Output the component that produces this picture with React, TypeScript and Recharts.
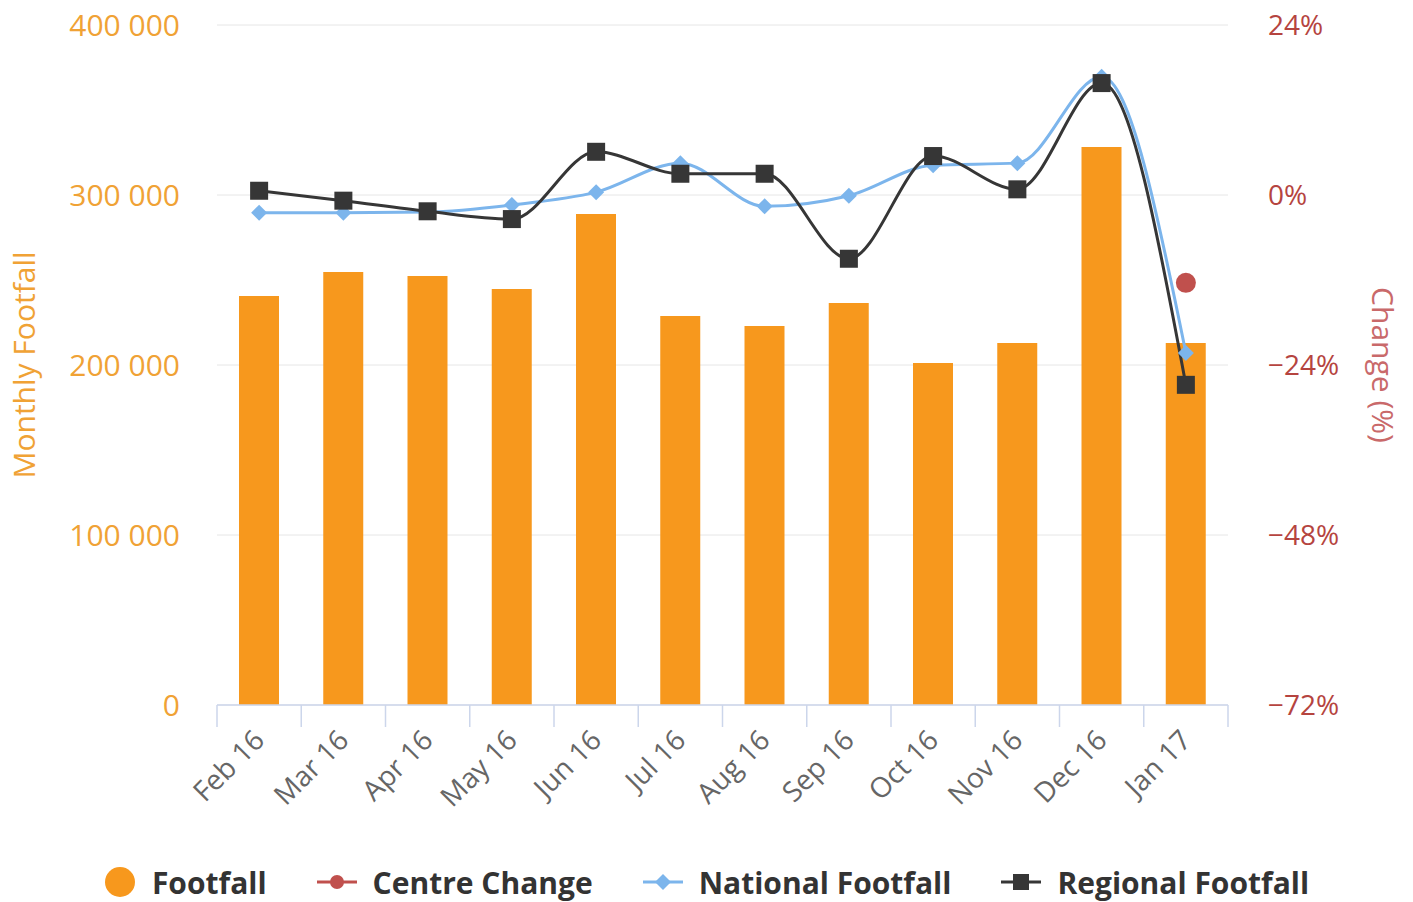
import {
  Bar,
  CartesianGrid,
  ComposedChart,
  Legend,
  Line,
  XAxis,
  YAxis,
} from "recharts";

const months = ["Feb 16", "Mar 16", "Apr 16", "May 16", "Jun 16", "Jul 16", "Aug 16", "Sep 16", "Oct 16", "Nov 16", "Dec 16", "Jan 17"];
const footfall = [240600, 254700, 252400, 244700, 288800, 228800, 222900, 236500, 201200, 212900, 328200, 212900];
const centreChange: (number | null)[] = [null, null, null, null, null, null, null, null, null, null, null, -12.4];
const nationalFootfall = [-2.5, -2.5, -2.4, -1.4, 0.4, 4.5, -1.6, -0.1, 4.2, 4.5, 16.7, -22.3];
const regionalFootfall = [0.6, -0.8, -2.3, -3.4, 6.1, 3.0, 3.0, -9.0, 5.5, 0.8, 15.8, -26.8];

const leftTicks = [0, 100000, 200000, 300000, 400000];
const rightTicks = [-72, -48, -24, 0, 24];

const data = months.map((m, i) => ({
  month: m,
  footfall: footfall[i],
  centre: centreChange[i],
  national: nationalFootfall[i],
  regional: regionalFootfall[i],
}));

const ORANGE = "#f7981d";
const RED = "#c0504d";
const BLUE = "#7cb5ec";
const DARK = "#363636";
const FONT = "'Open Sans', sans-serif";

const W = 1413;
const H = 902;
const PLOT_L = 217;
const PLOT_R = 1228;
const BAND = (PLOT_R - PLOT_L) / months.length;

const fmtThousands = (v: number) => String(v).replace(/\B(?=(\d{3})+(?!\d))/g, " ");
const fmtPct = (v: number) => `${v < 0 ? "−" : ""}${Math.abs(v)}%`;

function MonthTick(props: any) {
  const { x, y, payload, index } = props;
  const half = BAND / 2;
  const last = index === months.length - 1;
  const ax = x + 7;
  const ay = y + 37;
  return (
    <g>
      <line x1={x - half} y1={y} x2={x - half} y2={y + 22} stroke="#ccd6eb" strokeWidth={1.5} />
      {last && <line x1={x + half} y1={y} x2={x + half} y2={y + 22} stroke="#ccd6eb" strokeWidth={1.5} />}
      <text
        x={ax}
        y={ay}
        textAnchor="end"
        transform={`rotate(-45, ${ax}, ${ay})`}
        fill="#666"
        fontSize={28}
        fontFamily={FONT}
      >
        {payload.value}
      </text>
    </g>
  );
}

const SquareDot = (props: any) => {
  const { cx, cy } = props;
  if (cx == null || cy == null) return null;
  return <rect x={cx - 9} y={cy - 9} width={18} height={18} fill={DARK} />;
};

const DiamondDot = (props: any) => {
  const { cx, cy } = props;
  if (cx == null || cy == null) return null;
  return <path d={`M${cx},${cy - 8} L${cx + 8},${cy} L${cx},${cy + 8} L${cx - 8},${cy} Z`} fill={BLUE} />;
};

const CircleDot = (props: any) => {
  const { cx, cy, value } = props;
  if (cx == null || cy == null || value == null) return null;
  return <circle cx={cx} cy={cy} r={10} fill={RED} />;
};

function LegendIcon({ kind }: { kind: string }) {
  if (kind === "footfall") {
    return (
      <svg width={32} height={32}>
        <circle cx={16} cy={16} r={15} fill={ORANGE} />
      </svg>
    );
  }
  const color = kind === "centre" ? RED : kind === "national" ? BLUE : DARK;
  return (
    <svg width={40} height={32}>
      <line x1={0} y1={16} x2={40} y2={16} stroke={color} strokeWidth={3} />
      {kind === "centre" && <circle cx={20} cy={16} r={7} fill={color} />}
      {kind === "national" && <path d="M20,8 L28,16 L20,24 L12,16 Z" fill={color} />}
      {kind === "regional" && <rect x={12} y={8} width={16} height={16} fill={color} />}
    </svg>
  );
}

const legendItems = [
  { kind: "footfall", label: "Footfall" },
  { kind: "centre", label: "Centre Change" },
  { kind: "national", label: "National Footfall" },
  { kind: "regional", label: "Regional Footfall" },
];

function ChartLegend() {
  return (
    <div style={{ display: "flex", justifyContent: "center", alignItems: "center", height: 40, gap: 50 }}>
      {legendItems.map((it) => (
        <div key={it.kind} style={{ display: "flex", alignItems: "center", gap: 16 }}>
          <LegendIcon kind={it.kind} />
          <span style={{ fontFamily: FONT, fontWeight: 700, fontSize: 30, color: "#333" }}>{it.label}</span>
        </div>
      ))}
    </div>
  );
}

export default function App() {
  return (
    <div style={{ position: "absolute", left: 0, top: 0, width: W, height: H, background: "#fff" }}>
      <ComposedChart width={W} height={H} data={data} margin={{ top: 25, right: 0, bottom: 0, left: 0 }}>
        <CartesianGrid vertical={false} stroke="#e6e6e6" yAxisId="left" />
        <XAxis
          dataKey="month"
          height={157}
          axisLine={{ stroke: "#ccd6eb", strokeWidth: 1.5 }}
          tickLine={false}
          tickSize={0}
          tickMargin={0}
          interval={0}
          tick={<MonthTick />}
        />
        <YAxis
          yAxisId="left"
          orientation="left"
          width={PLOT_L}
          domain={[0, 400000]}
          ticks={leftTicks}
          tickFormatter={fmtThousands}
          axisLine={false}
          tickLine={false}
          tickSize={0}
          tickMargin={37}
          tick={{ fill: "#f0a235", fontSize: 30, fontFamily: FONT }}
          label={{
            value: "Monthly Footfall",
            angle: -90,
            position: "insideLeft",
            offset: 24,
            style: { fill: "#f0a235", fontSize: 30, fontFamily: FONT, textAnchor: "middle" },
          }}
        />
        <YAxis
          yAxisId="right"
          orientation="right"
          width={W - PLOT_R}
          domain={[-72, 24]}
          ticks={rightTicks}
          tickFormatter={fmtPct}
          axisLine={false}
          tickLine={false}
          tickSize={0}
          tickMargin={40}
          tick={{ fill: "#b5443f", fontSize: 28, fontFamily: FONT, textAnchor: "start" }}
          label={{
            value: "Change (%)",
            angle: 90,
            position: "insideRight",
            offset: 30,
            style: { fill: "#c9696a", fontSize: 30, fontFamily: FONT, textAnchor: "middle" },
          }}
        />
        <Bar yAxisId="left" dataKey="footfall" name="Footfall" fill={ORANGE} barSize={40} isAnimationActive={false} />
        <Line
          yAxisId="right"
          dataKey="centre"
          name="Centre Change"
          stroke={RED}
          strokeWidth={3}
          dot={<CircleDot />}
          activeDot={false}
          isAnimationActive={false}
        />
        <Line
          yAxisId="right"
          type="monotone"
          dataKey="national"
          name="National Footfall"
          stroke={BLUE}
          strokeWidth={3}
          dot={<DiamondDot />}
          activeDot={false}
          isAnimationActive={false}
        />
        <Line
          yAxisId="right"
          type="monotone"
          dataKey="regional"
          name="Regional Footfall"
          stroke={DARK}
          strokeWidth={3}
          dot={<SquareDot />}
          activeDot={false}
          isAnimationActive={false}
        />
        <Legend verticalAlign="bottom" content={<ChartLegend />} wrapperStyle={{ left: 0, width: W, bottom: 0 }} />
      </ComposedChart>
    </div>
  );
}
